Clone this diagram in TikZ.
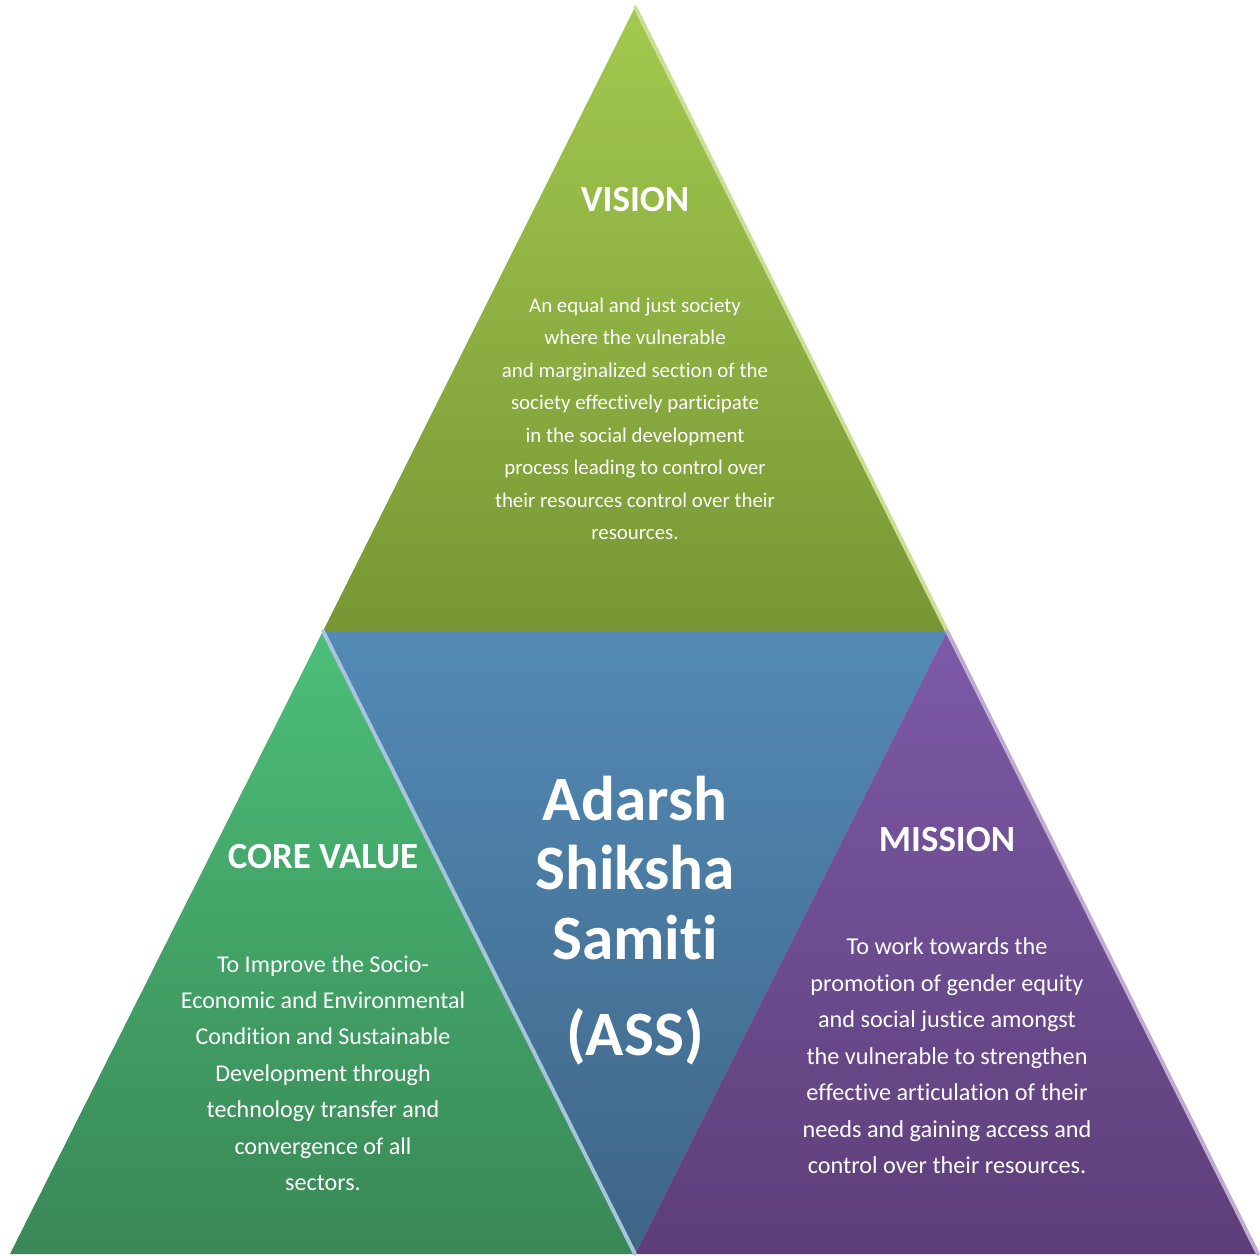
\documentclass[tikz,border=0pt]{standalone}
\usepackage{fontspec}
\setmainfont{Carlito}[Ligatures=NoCommon]
\definecolor{visiontop}{RGB}{163, 201, 79}
\definecolor{visionbot}{RGB}{120, 150, 52}
\definecolor{coretop}{RGB}{76, 190, 120}
\definecolor{corebot}{RGB}{57, 136, 86}
\definecolor{asstop}{RGB}{83, 138, 182}
\definecolor{assbot}{RGB}{62, 101, 134}
\definecolor{missiontop}{RGB}{124, 90, 168}
\definecolor{missionbot}{RGB}{94, 62, 120}
\usetikzlibrary{calc}

\begin{document}
\begin{tikzpicture}[x=0.02cm, y=-0.02cm,
  title/.style={font=\fontsize{21}{25}\selectfont\bfseries, text=white},
  body/.style={align=center, text=white},
  bevel/.style={line width=2.2pt, line cap=round}]
  \useasboundingbox (0,0) rectangle (1260,1256);

  % Corners
  \coordinate (apex) at (635, 7);
  \coordinate (lft) at (10, 1254);
  \coordinate (rgt) at (1258, 1254);
  \coordinate (ml) at (323, 631);
  \coordinate (mr) at (947, 631);
  \coordinate (mb) at (635, 1254);

  % Triangles
  \shade[top color=visiontop, bottom color=visionbot] (apex) -- (ml) -- (mr) -- cycle;
  \shade[top color=coretop, bottom color=corebot] (ml) -- (lft) -- (mb) -- cycle;
  \shade[top color=asstop, bottom color=assbot] (ml) -- (mr) -- (mb) -- cycle;
  \shade[top color=missiontop, bottom color=missionbot] (mr) -- (mb) -- (rgt) -- cycle;

  % Bevels
  \draw[bevel, visiontop!60!white] (apex) -- (mr);
  \draw[bevel, asstop!50!white] (ml) -- (mb);
  \draw[bevel, missiontop!50!white] (mr) -- (rgt);

  % Vision
  \node[title] (vision) at (635, 200) {VISION};
  \node[body, font=\fontsize{11.9}{18.5}\selectfont] (visiontxt) at (635, 419) {An equal and just society\\where the vulnerable\\and marginalized section of the\\society effectively participate\\in the social development\\process leading to control over\\their resources control over their\\resources.};

  % Core value
  \node[title] (core) at (323, 857) {CORE VALUE};
  \node[body, font=\fontsize{13.7}{20.7}\selectfont] (coretxt) at (323, 1073) {To Improve the Socio-\\Economic and Environmental\\Condition and Sustainable\\Development through\\technology transfer and\\convergence of all\\sectors.};

  % Mission
  \node[title] (mission) at (947, 840) {MISSION};
  \node[body, font=\fontsize{13.8}{20.8}\selectfont] (missiontxt) at (947, 1056) {To work towards the\\promotion of gender equity\\and social justice amongst\\the vulnerable to strengthen\\effective articulation of their\\needs and gaining access and\\control over their resources.};

  % Centre
  \node[body, font=\fontsize{36}{39.7}\selectfont\bfseries] (ass) at (635, 868) {Adarsh\\Shiksha\\Samiti};
  \node[body, font=\fontsize{36}{40}\selectfont\bfseries] (abbr) at (635, 1037) {(ASS)};
\end{tikzpicture}
\end{document}
